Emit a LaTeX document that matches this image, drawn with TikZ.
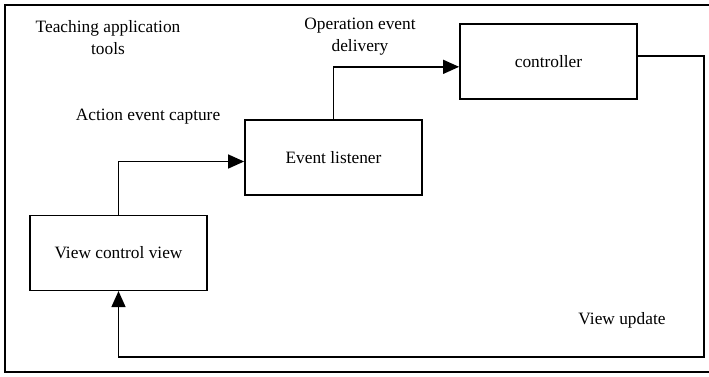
\documentclass[tikz,border=0pt]{standalone}
\usepackage{fontspec}
\setmainfont{Liberation Serif}
\usetikzlibrary{arrows.meta}

\tikzset{
  block/.style={draw, line width=1.1pt, minimum width=133pt, minimum height=56pt, inner sep=0pt},
  conn/.style={line width=1.1pt},
  flow/.style={conn, -{Triangle[length=12pt,width=10.5pt]}},
  lbl/.style={align=center, inner sep=0pt}
}

\begin{document}
\begin{tikzpicture}[x=0.75pt, y=-0.75pt, font=\fontsize{13}{16.5}\selectfont]
      \useasboundingbox (0,0) rectangle (709,376);
      % outer frame
      \draw[line width=1.4pt] (709,5) -- (5,5) -- (5,372) -- (709,372);
      % blocks
      \node[block] (view) at (118.5,253) {View control view};
      \node[block] (listener) at (333.5,157.5) {Event listener};
      \node[block] (ctrl) at (548.5,61.5) {controller};
      \coordinate (turn) at (704,357);
      % labels
      \node[lbl] (tools) at (108,38) {Teaching application\\tools};
      \node[lbl] (capture) at (148,117) {Action event capture};
      \node[lbl] (delivery) at (360,37) {Operation event\\delivery};
      \node[lbl] (update) at (622,320) {View update};
      % connectors
      \draw[flow] (view.north) |- ([yshift=-3pt]listener.west);
      \draw[flow] (listener.north) |- ([yshift=-4pt]ctrl.west);
      \draw[flow] ([yshift=4pt]ctrl.east) -| (turn) -| (view.south);
\end{tikzpicture}
\end{document}
